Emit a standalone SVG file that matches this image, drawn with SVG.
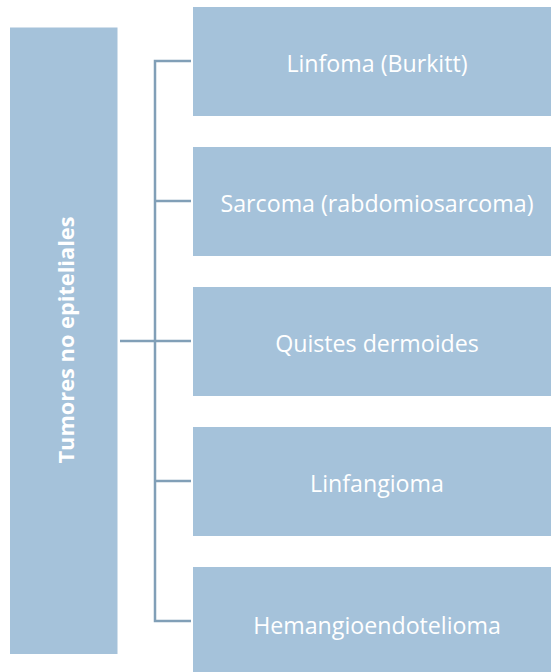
<svg xmlns="http://www.w3.org/2000/svg" width="551" height="672" viewBox="0 0 551 672">
<style>
.box{fill:#a5c2da;}
.lbl{fill:#ffffff;font-family:"Open Sans","Liberation Sans",sans-serif;font-size:23.2px;text-anchor:middle;}
.root{fill:#ffffff;font-family:"Open Sans","Liberation Sans",sans-serif;font-size:21.8px;font-weight:bold;text-anchor:middle;}
.con{fill:none;stroke:#819fb7;stroke-width:2.5;}
</style>
<rect width="551" height="672" fill="#ffffff"/>
<g id="connectors">
<path class="con" d="M120,341 H191"/>
<path class="con" d="M191,61 H155 V621 H191"/>
<path class="con" d="M155,201 H191"/>
<path class="con" d="M155,481 H191"/>
</g>
<g id="root">
<rect class="box" x="10" y="27.5" width="107.5" height="626.5"/>
<text class="root" transform="translate(73.5,340) rotate(-90)">Tumores no epiteliales</text>
</g>
<g id="n1">
<rect class="box" x="193" y="7" width="368" height="109"/>
<text class="lbl" x="377" y="72">Linfoma (Burkitt)</text>
</g>
<g id="n2">
<rect class="box" x="193" y="147" width="368" height="109"/>
<text class="lbl" x="377" y="211.5">Sarcoma (rabdomiosarcoma)</text>
</g>
<g id="n3">
<rect class="box" x="193" y="287" width="368" height="109"/>
<text class="lbl" x="377" y="352">Quistes dermoides</text>
</g>
<g id="n4">
<rect class="box" x="193" y="427" width="368" height="109"/>
<text class="lbl" x="377" y="492">Linfangioma</text>
</g>
<g id="n5">
<rect class="box" x="193" y="567" width="368" height="109"/>
<text class="lbl" x="377" y="634">Hemangioendotelioma</text>
</g>
</svg>
